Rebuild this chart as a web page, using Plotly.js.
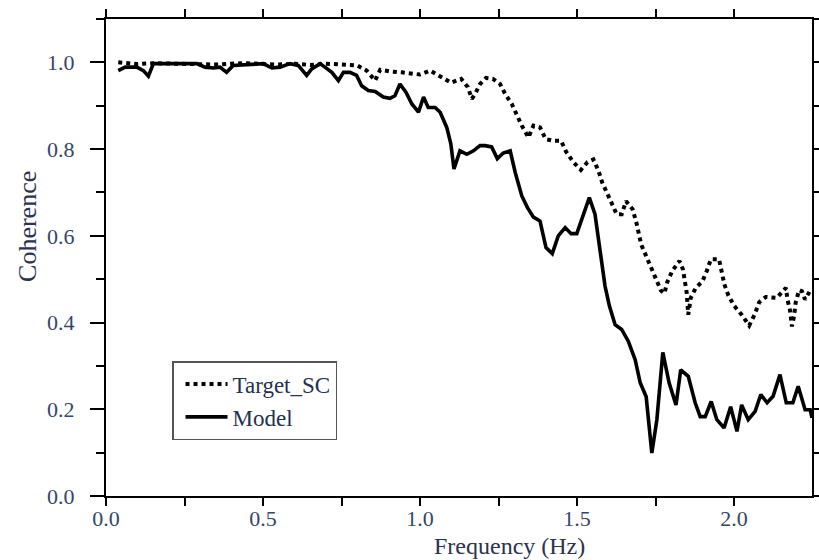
<!DOCTYPE html>
<html>
<head>
<meta charset="utf-8">
<script src="https://cdn.plot.ly/plotly-3.0.1.min.js"></script>
<style>html,body{margin:0;padding:0;background:#fff;}#chart{width:819px;height:560px;}</style>
</head>
<body>
<div id="chart"></div>
<script>
// Target_SC (dotted)
const targetFreq = [0.039,0.06,0.10,0.15,0.20,0.25,0.30,0.35,0.40,0.45,0.50,0.55,0.60,0.65,0.70,0.75,0.80,
  0.830,0.857,0.873,0.904,0.942,0.974,1.000,1.032,1.064,1.090,1.099,1.131,1.152,1.165,1.175,1.191,1.210,1.232,
  1.255,1.271,1.292,1.308,1.324,1.345,1.361,1.382,1.400,1.425,1.449,1.465,1.488,1.512,1.533,1.552,1.568,1.580,
  1.595,1.611,1.626,1.642,1.656,1.677,1.690,1.704,1.722,1.738,1.754,1.767,1.778,1.787,1.803,1.826,1.837,1.845,
  1.849,1.854,1.862,1.878,1.899,1.913,1.926,1.952,1.961,1.969,1.982,2.001,2.024,2.048,2.065,2.080,2.101,2.136,
  2.165,2.170,2.178,2.184,2.191,2.196,2.207,2.216,2.226,2.244];
const targetCoh = [1.0,0.998,0.996,0.998,0.997,0.998,0.997,0.995,0.997,0.998,0.996,0.995,0.997,0.994,0.997,0.996,0.993,
  0.981,0.958,0.983,0.979,0.977,0.973,0.972,0.981,0.968,0.956,0.953,0.962,0.943,0.916,0.927,0.950,0.964,0.962,
  0.950,0.927,0.904,0.879,0.854,0.827,0.854,0.850,0.823,0.819,0.819,0.794,0.770,0.752,0.770,0.776,0.750,0.723,
  0.698,0.675,0.650,0.650,0.680,0.661,0.627,0.580,0.550,0.524,0.499,0.474,0.467,0.493,0.519,0.542,0.523,0.492,
  0.469,0.418,0.457,0.480,0.495,0.519,0.546,0.546,0.515,0.488,0.462,0.438,0.418,0.393,0.418,0.447,0.459,0.457,
  0.480,0.453,0.428,0.391,0.415,0.446,0.475,0.472,0.453,0.476];

// Model (solid)
const modelFreq = [0.039,0.061,0.098,0.119,0.135,0.151,0.204,0.289,0.315,0.342,0.363,0.384,0.405,0.501,0.528,0.554,
  0.586,0.612,0.639,0.655,0.682,0.703,0.719,0.740,0.756,0.777,0.798,0.814,0.835,0.857,0.883,0.904,0.920,0.936,
  0.955,0.974,0.995,1.011,1.026,1.048,1.064,1.085,1.098,1.108,1.127,1.149,1.170,1.191,1.207,1.228,1.246,1.265,
  1.287,1.303,1.324,1.342,1.361,1.382,1.401,1.421,1.440,1.462,1.481,1.499,1.520,1.539,1.557,1.573,1.589,1.603,
  1.621,1.642,1.663,1.685,1.701,1.720,1.738,1.754,1.773,1.793,1.815,1.830,1.854,1.876,1.892,1.908,1.927,1.945,
  1.968,1.989,2.009,2.024,2.045,2.067,2.085,2.105,2.124,2.146,2.166,2.187,2.204,2.226,2.242,2.248];
const modelCoh = [0.981,0.989,0.989,0.981,0.968,0.997,0.997,0.997,0.989,0.987,0.989,0.977,0.993,0.997,0.987,0.989,
  0.997,0.993,0.970,0.985,0.997,0.987,0.977,0.958,0.977,0.977,0.970,0.946,0.935,0.933,0.920,0.917,0.923,0.950,
  0.931,0.904,0.885,0.920,0.896,0.896,0.885,0.850,0.812,0.754,0.796,0.788,0.796,0.808,0.808,0.805,0.778,0.791,
  0.796,0.746,0.692,0.665,0.643,0.634,0.573,0.559,0.600,0.619,0.605,0.605,0.650,0.688,0.650,0.569,0.484,0.438,
  0.395,0.384,0.357,0.314,0.261,0.229,0.099,0.176,0.331,0.261,0.210,0.291,0.276,0.215,0.183,0.183,0.218,0.176,
  0.157,0.206,0.149,0.210,0.176,0.195,0.234,0.215,0.230,0.280,0.215,0.215,0.253,0.199,0.199,0.180];

const xTickVals = [0, 0.5, 1.0, 1.5, 2.0];
const xMinorVals = [0.25, 0.75, 1.25, 1.75, 2.25];
const xTopVals = [0, 0.25, 0.5, 0.75, 1.0, 1.25, 1.5, 1.75, 2.0, 2.25];
const yTickVals = [0, 0.2, 0.4, 0.6, 0.8, 1.0];
const yRightVals = [0, 0.1, 0.2, 0.3, 0.4, 0.5, 0.6, 0.7, 0.8, 0.9, 1.0, 1.1];

const FONT = '"Liberation Serif", "Times New Roman", serif';
const XR = [0, 2.248], YR = [0, 1.1];

const traces = [
  {x: targetFreq, y: targetCoh, name: 'Target_SC', type: 'scatter', mode: 'lines',
   line: {color: '#000', width: 4, dash: '4px,4px'}, legendgroup: 'a', hoverinfo: 'skip'},
  {x: modelFreq, y: modelCoh, name: 'Model', type: 'scatter', mode: 'lines',
   line: {color: '#000', width: 3.6}, legendgroup: 'b', hoverinfo: 'skip'},
  {x: [], y: [], xaxis: 'x2', yaxis: 'y2', showlegend: false, hoverinfo: 'skip', type: 'scatter', mode: 'lines'}
];

const layout = {
  width: 819, height: 560,
  margin: {l: 106, r: 7, t: 19, b: 64, pad: 0},
  paper_bgcolor: '#fff', plot_bgcolor: '#fff',
  showlegend: true,
  font: {family: FONT, color: '#2f3c5e'},
  xaxis: {
    range: XR, tickvals: xTickVals, ticktext: xTickVals.map(v => v.toFixed(1)),
    ticks: 'outside', ticklen: 8, tickwidth: 2, tickcolor: '#000',
    minor: {tickvals: xMinorVals, ticks: 'outside', ticklen: 8, tickwidth: 2, tickcolor: '#000', showgrid: false},
    showline: true, linewidth: 2.2, linecolor: '#000', mirror: true,
    showgrid: false, zeroline: false, ticklabelstandoff: -7,
    tickfont: {family: FONT, size: 22, color: '#34466b'}
  },
  yaxis: {
    range: YR, tickvals: yTickVals, ticktext: yTickVals.map(v => v.toFixed(1)),
    ticks: 'outside', ticklen: 14, tickwidth: 2, tickcolor: '#000',
    minor: {dtick: 0.1, ticks: 'outside', ticklen: 8, tickwidth: 2, tickcolor: '#000', showgrid: false},
    showline: true, linewidth: 2.2, linecolor: '#000', mirror: true,
    showgrid: false, zeroline: false, ticklabelstandoff: 11,
    tickfont: {family: FONT, size: 22, color: '#34466b'}
  },
  xaxis2: {
    overlaying: 'x', side: 'top', anchor: 'y2', range: XR, tickvals: xTopVals,
    ticks: 'outside', ticklen: 9, tickwidth: 2, tickcolor: '#000',
    showticklabels: false, showgrid: false, zeroline: false, showline: false
  },
  yaxis2: {
    overlaying: 'y', side: 'right', anchor: 'x2', range: YR, tickvals: yRightVals,
    ticks: 'outside', ticklen: 6, tickwidth: 2, tickcolor: '#000',
    showticklabels: false, showgrid: false, zeroline: false, showline: false
  },
  legend: {
    x: 0.0935, y: 0.283, xanchor: 'left', yanchor: 'top',
    bgcolor: '#fff', bordercolor: '#555', borderwidth: 1.5,
    font: {family: FONT, size: 23, color: '#23304f'},
    traceorder: 'grouped', tracegroupgap: 0, itemwidth: 42, indentation: 7
  },
  annotations: [
    {text: 'Frequency (Hz)', xref: 'paper', yref: 'paper', x: 0.5715, y: -0.104,
     xanchor: 'center', yanchor: 'middle', showarrow: false,
     font: {family: FONT, size: 24, color: '#2b3350'}},
    {text: 'Coherence', xref: 'paper', yref: 'paper', x: -0.112, y: 0.566,
     xanchor: 'center', yanchor: 'middle', showarrow: false, textangle: -90,
     font: {family: FONT, size: 26, color: '#2b3350'}}
  ]
};

Plotly.newPlot('chart', traces, layout, {staticPlot: true, displayModeBar: false});
</script>
</body>
</html>
